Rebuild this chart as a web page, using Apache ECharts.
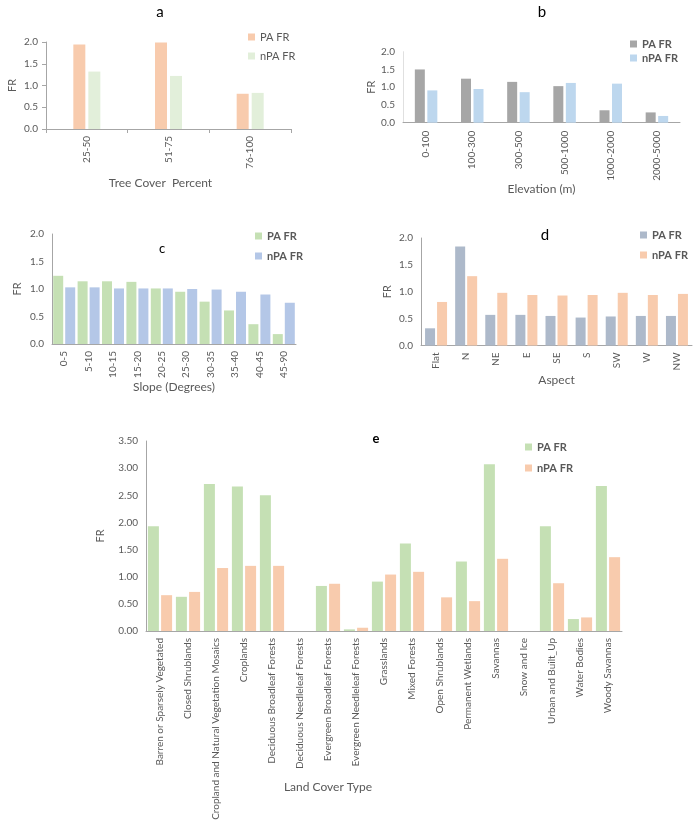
<!DOCTYPE html>
<html><head><meta charset="utf-8">
<script src="https://cdn.jsdelivr.net/npm/echarts@6/dist/echarts.min.js"></script>
<style>html,body{margin:0;padding:0;background:#fff}#c{width:700px;height:826px}</style>
</head><body><div id="c"></div>
<script>
// Panel a: Tree cover
const catA = ['25-50', '51-75', '76-100'];
const paA = [1.94, 1.99, 0.81];
const npaA = [1.32, 1.22, 0.83];
// Panel b: Elevation
const catB = ['0-100', '100-300', '300-500', '500-1000', '1000-2000', '2000-5000'];
const paB = [1.50, 1.24, 1.15, 1.03, 0.35, 0.29];
const npaB = [0.91, 0.95, 0.86, 1.12, 1.10, 0.19];
// Panel c: Slope
const catC = ['0-5', '5-10', '10-15', '15-20', '20-25', '25-30', '30-35', '35-40', '40-45', '45-90'];
const paC = [1.24, 1.14, 1.14, 1.13, 1.01, 0.95, 0.77, 0.61, 0.36, 0.18];
const npaC = [1.03, 1.03, 1.01, 1.01, 1.01, 1.00, 0.99, 0.95, 0.90, 0.75];
// Panel d: Aspect
const catD = ['Flat', 'N', 'NE', 'E', 'SE', 'S', 'SW', 'W', 'NW'];
const paD = [0.32, 1.84, 0.57, 0.57, 0.55, 0.52, 0.54, 0.55, 0.55];
const npaD = [0.81, 1.29, 0.98, 0.94, 0.93, 0.94, 0.98, 0.94, 0.96];
// Panel e: Land cover
const catE = ['Barren or Sparsely Vegetated', 'Closed Shrublands', 'Cropland and Natural Vegetation Mosaics', 'Croplands',
  'Deciduous Broadleaf Forests', 'Deciduous Needleleaf Forests', 'Evergreen Broadleaf Forests', 'Evergreen Needleleaf Forests',
  'Grasslands', 'Mixed Forests', 'Open Shrublands', 'Permanent Wetlands', 'Savannas', 'Snow and Ice', 'Urban and Built_Up',
  'Water Bodies', 'Woody Savannas'];
const paE = [1.93, 0.63, 2.71, 2.66, 2.50, 0, 0.83, 0.03, 0.91, 1.61, 0, 1.28, 3.07, 0, 1.93, 0.22, 2.67];
const npaE = [0.66, 0.72, 1.16, 1.20, 1.20, 0, 0.87, 0.06, 1.04, 1.09, 0.62, 0.55, 1.33, 0, 0.88, 0.25, 1.36];
// Tick settings
const yMaxSmall = 2.0, yIntSmall = 0.5;
const yMaxE = 3.5, yIntE = 0.5;

const TXT = '#595959';
const FONT = 'Lato, "Open Sans", sans-serif';
const AX = '#A6A6A6';
const chart = echarts.init(document.getElementById('c'));

const grids = [
  {left: 46, top: 42, width: 245, height: 87},
  {left: 403, top: 51.7, width: 277, height: 71},
  {left: 52, top: 234, width: 244, height: 110},
  {left: 421, top: 238, width: 271, height: 107.5},
  {left: 146, top: 441, width: 476, height: 190}
].map(g => Object.assign(g, {outerBoundsMode: 'none', containLabel: false}));
function xAx(i, data, name, gap, pad, opt, lblSize) {
  return Object.assign({
    type: 'category', gridIndex: i, data: data,
    name: name, nameLocation: 'middle', nameGap: gap, nameMoveOverlap: false,
    nameTextStyle: {fontSize: 12, color: TXT, fontFamily: FONT, padding: pad},
    axisLine: {show: true, lineStyle: {color: AX, width: 1}},
    axisTick: {show: false},
    axisLabel: {rotate: 90, interval: 0, fontSize: lblSize || 10, color: TXT, fontFamily: FONT, margin: 7}
  }, opt || {});
}
function yAx(i, max, interval, digits, gap, opt) {
  return Object.assign({
    type: 'value', gridIndex: i, min: 0, max: max, interval: interval,
    name: 'FR', nameLocation: 'middle', nameGap: gap, nameMoveOverlap: false,
    nameTextStyle: {fontSize: 11, color: TXT, fontFamily: FONT},
    axisLine: {show: true, lineStyle: {color: AX, width: 1}},
    axisTick: {show: false},
    splitLine: {show: false},
    axisLabel: {fontSize: 10, color: TXT, fontFamily: FONT, margin: 8, formatter: v => v.toFixed(digits)}
  }, opt || {});
}
function bars(i, name, data, color, w, gapPct) {
  return {type: 'bar', name: name, xAxisIndex: i, yAxisIndex: i, data: data, barWidth: w, barGap: gapPct,
    itemStyle: {color: color}, emphasis: {disabled: true}, silent: true};
}
function legend(left, top, gap, c1, c2, bold) {
  return {left: left, top: top, orient: 'vertical', itemWidth: 7, itemHeight: 7, itemGap: gap, icon: 'rect',
    padding: 0, selectedMode: false,
    textStyle: {fontSize: 11, color: TXT, fontFamily: FONT, fontWeight: bold ? 'bold' : 'normal'},
    data: [{name: 'PA FR', itemStyle: {color: c1}}, {name: 'nPA FR', itemStyle: {color: c2}}]};
}
function title(text, x, y, size, bold) {
  return {text: text, left: x, top: y, textAlign: 'center', padding: 0,
    textStyle: {fontSize: size, color: '#000', fontFamily: FONT, fontWeight: bold ? 'bold' : 'normal'}};
}

const ORANGE = '#F8CBAD', PALEGREEN = '#E2EFDA', GRAY = '#A6A6A6', LBLUE = '#BDD7EE',
  GREEN = '#C5E0B4', PERI = '#B4C7E7', BGRAY = '#ADB9CA';

chart.setOption({
  animation: false,
  textStyle: {fontFamily: FONT},
  title: [
    title('a', 160, 5, 15), title('b', 542, 5, 15), title('c', 162, 242, 13),
    title('d', 545, 228, 15), title('e', 376, 432, 13, true)
  ],
  legend: [
    legend(248, 31.5, 8, ORANGE, PALEGREEN, false),
    legend(630, 38.5, 3, GRAY, LBLUE, true),
    legend(255, 230.5, 9, GREEN, PERI, true),
    legend(640, 229.5, 9, BGRAY, ORANGE, true),
    legend(525, 441.5, 10, GREEN, ORANGE, true)
  ],
  grid: grids,
  xAxis: [
    xAx(0, catA, 'Tree Cover  Percent', 48, [0, 16, 0, 0], {axisTick: {show: true, length: 4, lineStyle: {color: AX}}}),
    xAx(1, catB, 'Elevation (m)', 60, 0, {axisLabel: {rotate: 90, interval: 0, fontSize: 10, color: TXT, fontFamily: FONT, margin: 8}}),
    xAx(2, catC, 'Slope (Degrees)', 37, 0),
    xAx(3, catD, 'Aspect', 29, 0),
    xAx(4, catE, 'Land Cover Type', 150, [0, 112, 0, 0], null, 10)
  ],
  yAxis: [
    yAx(0, yMaxSmall, yIntSmall, 1, 28, {axisTick: {show: true, length: 4, lineStyle: {color: AX}}}),
    yAx(1, yMaxSmall, yIntSmall, 1, 26, {axisLine: {show: true, lineStyle: {color: '#E0E0E0'}}}),
    yAx(2, yMaxSmall, yIntSmall, 1, 29),
    yAx(3, yMaxSmall, yIntSmall, 1, 28),
    yAx(4, yMaxE, yIntE, 2, 40)
  ],
  series: [
    bars(0, 'PA FR', paA, ORANGE, 12, '25%'),
    bars(0, 'nPA FR', npaA, PALEGREEN, 12, '25%'),
    bars(1, 'PA FR', paB, GRAY, 10, '25%'),
    bars(1, 'nPA FR', npaB, LBLUE, 10, '25%'),
    bars(2, 'PA FR', paC, GREEN, 10, '20%'),
    bars(2, 'nPA FR', npaC, PERI, 10, '20%'),
    bars(3, 'PA FR', paD, BGRAY, 10, '20%'),
    bars(3, 'nPA FR', npaD, ORANGE, 10, '20%'),
    bars(4, 'PA FR', paE, GREEN, 11, '20%'),
    bars(4, 'nPA FR', npaE, ORANGE, 11, '20%')
  ]
});
</script></body></html>
